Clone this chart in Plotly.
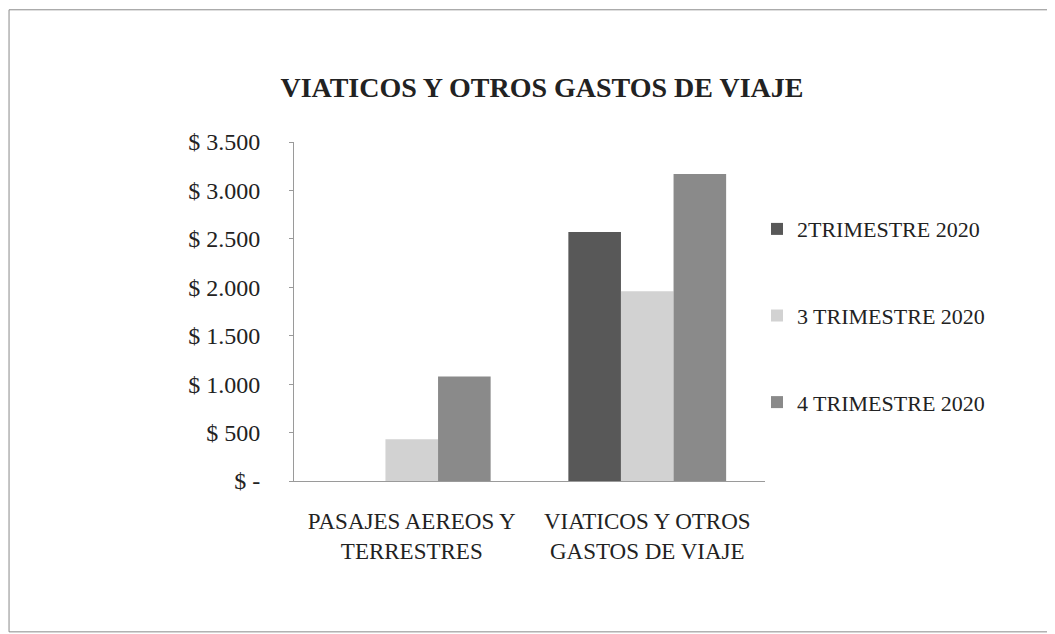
import plotly.graph_objects as go

categories = ["PASAJES AEREOS Y<br>TERRESTRES", "VIATICOS Y OTROS<br>GASTOS DE VIAJE"]
series_names = ["2TRIMESTRE 2020", "3 TRIMESTRE 2020", "4 TRIMESTRE 2020"]
t2_values = [0, 2570]
t3_values = [430, 1960]
t4_values = [1080, 3170]
tick_vals = [0, 500, 1000, 1500, 2000, 2500, 3000, 3500]
tick_text = ["$ -", "$ 500", "$ 1.000", "$ 1.500", "$ 2.000", "$ 2.500", "$ 3.000", "$ 3.500"]

c = ["#585858", "#d2d2d2", "#8a8a8a"]
font_family = "Liberation Serif"

fig = go.Figure()
for i, (name, vals, col) in enumerate(zip(series_names, [t2_values, t3_values, t4_values], c)):
    fig.add_trace(go.Bar(x=categories, y=vals, name=name, marker_color=col,
                         marker_line_width=0, legendgroup=str(i)))

fig.update_yaxes(range=[0, 3500], tickvals=tick_vals, ticktext=tick_text,
                 showgrid=False, showline=True, linecolor="#9a9a9a", linewidth=1,
                 ticks="outside", ticklen=4, tickcolor="#9a9a9a", ticklabelstandoff=24,
                 tickfont=dict(family=font_family, size=24, color="#222"))
fig.update_xaxes(showgrid=False, showline=True, linecolor="#9a9a9a", linewidth=1,
                 ticklabelstandoff=19,
                 tickfont=dict(family=font_family, size=23, color="#222"))

# outer frame of the chart box: top, left and bottom edges (right side runs off the page)
frame = dict(color="#8a8a8a", width=1)
fig.add_shape(type="line", xref="paper", yref="paper", x0=-0.605, x1=1.7, y0=1.39, y1=1.39, line=frame)
fig.add_shape(type="line", xref="paper", yref="paper", x0=-0.605, x1=-0.605, y0=-0.445, y1=1.39, line=frame)
fig.add_shape(type="line", xref="paper", yref="paper", x0=-0.605, x1=1.7, y0=-0.445, y1=-0.445, line=frame)

fig.update_layout(
    width=1047, height=626,
    plot_bgcolor="white", paper_bgcolor="white",
    barmode="group", bargap=0.33, bargroupgap=0,
    margin=dict(l=286, r=290, t=134, b=153),
    title=dict(text="<b>VIATICOS Y OTROS GASTOS DE VIAJE</b>", x=0.51, xanchor="center",
               y=0.873, yanchor="middle",
               font=dict(family=font_family, size=28, color="#222")),
    legend=dict(x=0.983, xanchor="left", y=0.805, yanchor="top",
                font=dict(family=font_family, size=22, color="#222"),
                tracegroupgap=55, itemwidth=30, traceorder="grouped"),
    showlegend=True,
)

fig.write_html("out.html")
